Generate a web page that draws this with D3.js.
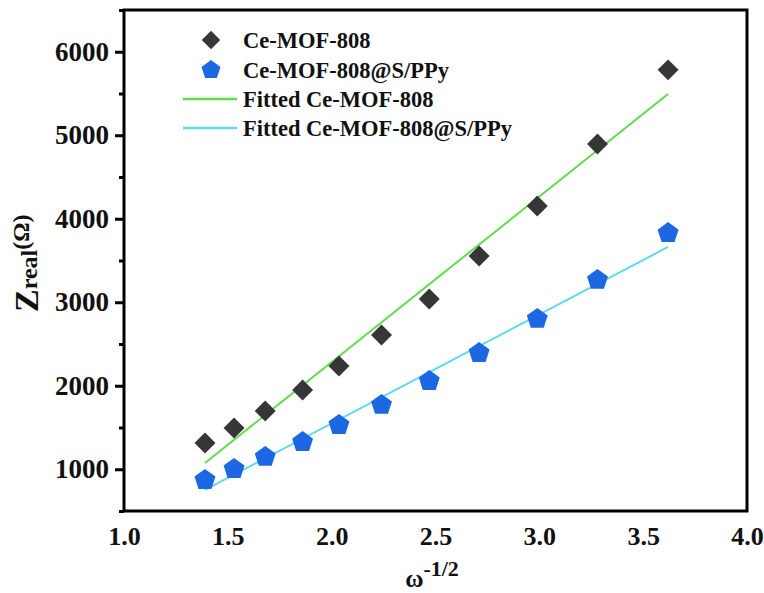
<!DOCTYPE html>
<html>
<head>
<meta charset="utf-8">
<script src="https://cdn.jsdelivr.net/npm/d3@7"></script>
<style>
  body { margin: 0; background: #fff; }
  text { font-family: "Liberation Serif", "Times New Roman", serif; font-weight: bold; }
</style>
</head>
<body>
<div id="chart"></div>
<script>
// omega^-1/2 values (shared by both series)
const omegaVals = [1.39, 1.53, 1.68, 1.86, 2.035, 2.24, 2.47, 2.71, 2.99, 3.28, 3.62];
// Z real, Ce-MOF-808
const zMof = [1314, 1494, 1698, 1949, 2237, 2608, 3039, 3555, 4153, 4896, 5783];
// Z real, Ce-MOF-808@S/PPy
const zPpy = [871, 1003, 1147, 1326, 1530, 1770, 2057, 2392, 2800, 3267, 3829];
// fitted line end points (x, y)
const fitMof = [[1.39, 1075], [3.62, 5495]];
const fitPpy = [[1.39, 752], [3.62, 3662]];

const xTicks = [1.0, 1.5, 2.0, 2.5, 3.0, 3.5, 4.0];
const yTicks = [1000, 2000, 3000, 4000, 5000, 6000];
const yMinor = [500, 1500, 2500, 3500, 4500, 5500, 6500];

const legendNames = ["Ce-MOF-808", "Ce-MOF-808@S/PPy", "Fitted Ce-MOF-808", "Fitted Ce-MOF-808@S/PPy"];

const width = 764, height = 593;
const margin = { top: 10, right: 17, bottom: 82, left: 124 };

const svg = d3.select("#chart").append("svg")
    .attr("width", width)
    .attr("height", height);

const x = d3.scaleLinear()
    .domain([1.0, 4.0])
    .range([margin.left, width - margin.right]);

const y = d3.scaleLinear()
    .domain([500, 6500])
    .range([height - margin.bottom, margin.top]);

const diamondColor = "#363636";
const pentColor = "#1c68e2";
const greenColor = "#5fdc4c";
const cyanColor = "#62dbe8";

// pentagon path around 0,0
function pentagon(r) {
    const p = d3.path();
    d3.range(5).forEach(i => {
        const a = -Math.PI / 2 + i * 2 * Math.PI / 5;
        if (i === 0) p.moveTo(r * Math.cos(a), r * Math.sin(a));
        else p.lineTo(r * Math.cos(a), r * Math.sin(a));
    });
    p.closePath();
    return p.toString();
}
const diamond = d3.symbol().type(d3.symbolSquare).size(220);

// axes
const yAxis = svg.append("g")
    .attr("transform", `translate(${margin.left},0)`)
    .call(d3.axisLeft(y).tickValues(yTicks).tickSize(9).tickPadding(6).tickFormat(d3.format("d")));
yAxis.select(".domain").remove();
yAxis.selectAll("line").attr("stroke-width", 3);
yAxis.selectAll("text").style("font-size", "27px").attr("fill", "#111");

const yMinorAxis = svg.append("g")
    .attr("transform", `translate(${margin.left},0)`)
    .call(d3.axisLeft(y).tickValues(yMinor).tickSize(5).tickFormat(""));
yMinorAxis.select(".domain").remove();
yMinorAxis.selectAll("line").attr("stroke-width", 3);

const xAxis = svg.append("g")
    .attr("transform", `translate(0,${height - margin.bottom})`)
    .call(d3.axisBottom(x).tickValues(xTicks).tickSize(0).tickPadding(16).tickFormat(d3.format(".1f")));
xAxis.select(".domain").remove();
xAxis.selectAll("text").style("font-size", "26px").attr("fill", "#111");

// frame
svg.append("rect")
    .attr("x", margin.left)
    .attr("y", margin.top)
    .attr("width", width - margin.left - margin.right)
    .attr("height", height - margin.top - margin.bottom)
    .attr("fill", "none")
    .attr("stroke", "#000")
    .attr("stroke-width", 3);

// fit lines
const line = d3.line().x(d => x(d[0])).y(d => y(d[1]));
svg.append("path").datum(fitMof).attr("d", line)
    .attr("stroke", greenColor).attr("stroke-width", 2).attr("fill", "none");
svg.append("path").datum(fitPpy).attr("d", line)
    .attr("stroke", cyanColor).attr("stroke-width", 2).attr("fill", "none");

// markers
svg.append("g").selectAll("path")
    .data(omegaVals.map((v, i) => [v, zMof[i]]))
    .join("path")
    .attr("d", diamond)
    .attr("transform", d => `translate(${x(d[0])},${y(d[1])}) rotate(45)`)
    .attr("fill", diamondColor);

svg.append("g").selectAll("path")
    .data(omegaVals.map((v, i) => [v, zPpy[i]]))
    .join("path")
    .attr("d", pentagon(11))
    .attr("transform", d => `translate(${x(d[0])},${y(d[1])})`)
    .attr("fill", pentColor);

// legend
const leg = svg.append("g");
const rowY = [40, 70, 99, 128];
leg.append("path").attr("d", d3.symbol().type(d3.symbolSquare).size(170))
    .attr("transform", `translate(211,${rowY[0]}) rotate(45)`).attr("fill", diamondColor);
leg.append("path").attr("d", pentagon(10))
    .attr("transform", `translate(211,${rowY[1]})`).attr("fill", pentColor);
leg.append("line").attr("x1", 183).attr("x2", 237).attr("y1", rowY[2]).attr("y2", rowY[2])
    .attr("stroke", greenColor).attr("stroke-width", 2.5);
leg.append("line").attr("x1", 183).attr("x2", 237).attr("y1", rowY[3]).attr("y2", rowY[3])
    .attr("stroke", cyanColor).attr("stroke-width", 2.5);
leg.selectAll("text")
    .data(legendNames)
    .join("text")
    .attr("x", 243)
    .attr("y", (d, i) => rowY[i] + 8)
    .style("font-size", "22.5px")
    .attr("fill", "#111")
    .text(d => d);

// y title
const yt = svg.append("text")
    .attr("transform", "translate(38,312) rotate(-90)")
    .attr("fill", "#111");
yt.append("tspan").text("Z").style("font-size", "34px");
yt.append("tspan").text("real").style("font-size", "24px").attr("dy", -1);
yt.append("tspan").text("(Ω)").style("font-size", "24px").attr("dy", -8);

// x title
const xt = svg.append("text")
    .attr("x", 432)
    .attr("y", 587)
    .attr("text-anchor", "middle")
    .attr("fill", "#111");
xt.append("tspan").text("ω").style("font-size", "25px");
xt.append("tspan").text("-1/2").style("font-size", "22px").attr("dy", -11);
</script>
</body>
</html>
